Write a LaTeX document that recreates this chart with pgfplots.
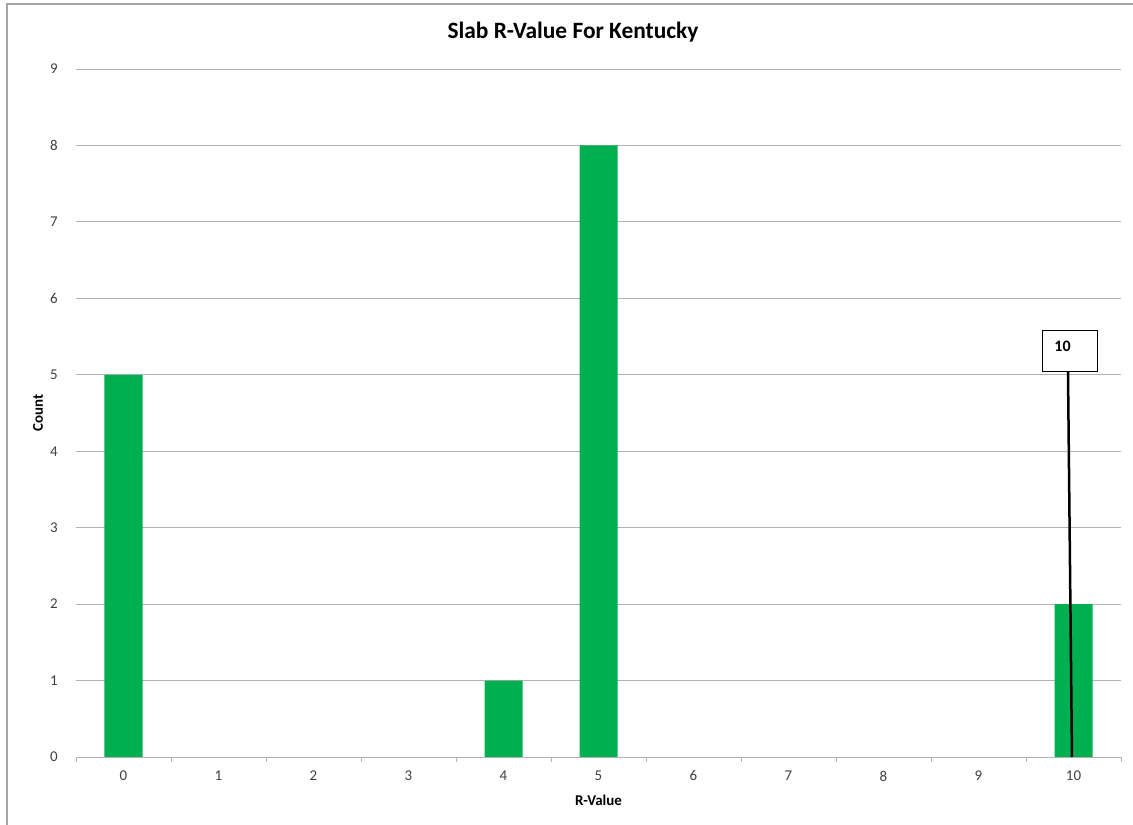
\documentclass[border=0pt]{standalone}
\usepackage{pgfplots}
\pgfplotsset{compat=1.18}
\usepackage{fontspec}
\setmainfont{Carlito}
\definecolor{bargreen}{HTML}{00B050}
\definecolor{gridgray}{HTML}{B3B3B3}
\definecolor{ticktext}{HTML}{404040}
\begin{document}
\begin{tikzpicture}[x=1bp,y=1bp]
\useasboundingbox (-76,-68) rectangle (1057,757);
\fill[white] (-76,-68) rectangle (1057,757);
\draw[gray!70, line width=1.2bp] (-69,-68) -- (-69,753) -- (1057,753);
\begin{axis}[
  at={(0,0)}, anchor=south west,
  scale only axis, width=1045bp, height=688bp,
  xmin=-0.5, xmax=10.5, ymin=0, ymax=9,
  xtick={0,...,10},
  ytick={0,...,9},
  /pgf/number format/assume math mode=true,
  major tick length=0pt,
  axis line style={draw=none},
  ymajorgrids, grid style={gridgray, line width=0.9bp},
  xtick pos=bottom, ytick pos=left,
  extra x ticks={-0.5,0.5,...,10.5},
  extra x tick labels={},
  extra x tick style={major tick length=5bp, tick align=outside, tick style={gridgray, line width=0.9bp}, grid=none},
  tick label style={font=\fontsize{15}{18}\selectfont, text=ticktext},
  xticklabel style={anchor=center, yshift=-19bp},
  yticklabel style={anchor=center, xshift=-22bp},
  ybar, bar width=38bp,
  clip=false,
]
\addplot[fill=bargreen, draw=none] coordinates {
  (0,5) (4,1) (5,8) (10,2)
};
\draw[black, line width=2.5bp] (axis cs:9.984,0) -- (axis cs:9.942,5.036);
\node[draw=black, fill=white, line width=0.8bp, minimum width=55bp, minimum height=41bp, anchor=south, inner sep=0pt] (lbl) at (axis cs:9.958,5.036) {};
\node[font=\bfseries\fontsize{16}{19}\selectfont, anchor=center] at ([xshift=-7bp,yshift=5bp]lbl.center) {10};
\end{axis}
\node[font=\bfseries\fontsize{23.5}{28}\selectfont] at (497,725) {Slab R-Value For Kentucky};
\node[font=\bfseries\fontsize{15}{18}\selectfont] at (522.5,-43) {R-Value};
\node[font=\bfseries\fontsize{15}{18}\selectfont, rotate=90] at (-38,344) {Count};
\end{tikzpicture}
\end{document}
